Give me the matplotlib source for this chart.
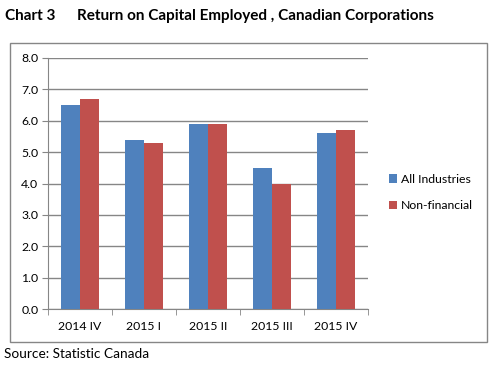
import matplotlib.pyplot as plt
import numpy as np
from matplotlib.patches import Rectangle

plt.rcParams['font.family'] = ['Lato', 'DejaVu Sans']

quarters = ['2014 IV', '2015 I', '2015 II', '2015 III', '2015 IV']
all_industries = [6.5, 5.4, 5.9, 4.5, 5.6]
non_financial = [6.7, 5.3, 5.9, 4.0, 5.7]

blue = '#4F81BD'
red = '#C0504D'
grey = '#868686'

fig = plt.figure(figsize=(4.92, 3.66), dpi=100)
ax = fig.add_axes([48/492, 1 - 309/366, 320/492, 251/366])

# outer chart border
fig.patches.append(Rectangle((10/492, 1 - 342/366), 477/492, 299/366,
                             transform=fig.transFigure, fill=False,
                             edgecolor=grey, linewidth=1.0))

x = np.arange(len(quarters))
w = 0.29
ax.bar(x - w/2, all_industries, w, color=blue, label='All Industries', zorder=3)
ax.bar(x + w/2, non_financial, w, color=red, label='Non-financial', zorder=3)

ax.set_xlim(-0.5, len(quarters) - 0.5)
ax.set_ylim(0, 8)
ax.set_yticks(np.arange(0, 8.1, 1.0))
ax.set_yticklabels([f'{v:.1f}' for v in np.arange(0, 8.1, 1.0)])
ax.yaxis.grid(True, color=grey, linewidth=1.0, zorder=0)

ax.set_xticks(x)
ax.set_xticklabels(quarters)
ax.set_xticks(np.arange(-0.5, len(quarters), 1.0), minor=True)
ax.tick_params(axis='x', which='major', length=0, pad=9, labelsize=8.8)
ax.tick_params(axis='x', which='minor', length=4, color=grey, direction='out')
ax.tick_params(axis='y', length=4, color=grey, direction='out', labelsize=8.8, pad=3)

for s in ['top', 'right']:
    ax.spines[s].set_visible(False)
for s in ['left', 'bottom']:
    ax.spines[s].set_color(grey)

ax.legend(loc='center left', bbox_to_anchor=(1.03, 0.464), frameon=False,
          fontsize=8.8, handlelength=0.7, handleheight=0.7, handletextpad=0.3,
          labelspacing=1.25)

fig.text(5/492, 1 - 16/366, 'Chart 3', fontsize=11, fontweight='bold', va='center')
fig.text(77/492, 1 - 16/366, 'Return on Capital Employed , Canadian Corporations',
         fontsize=11, fontweight='bold', va='center')
fig.text(4/492, 1 - 354/366, 'Source: Statistic Canada', fontsize=9.8, va='center')

fig.savefig('out.png', dpi=100)
